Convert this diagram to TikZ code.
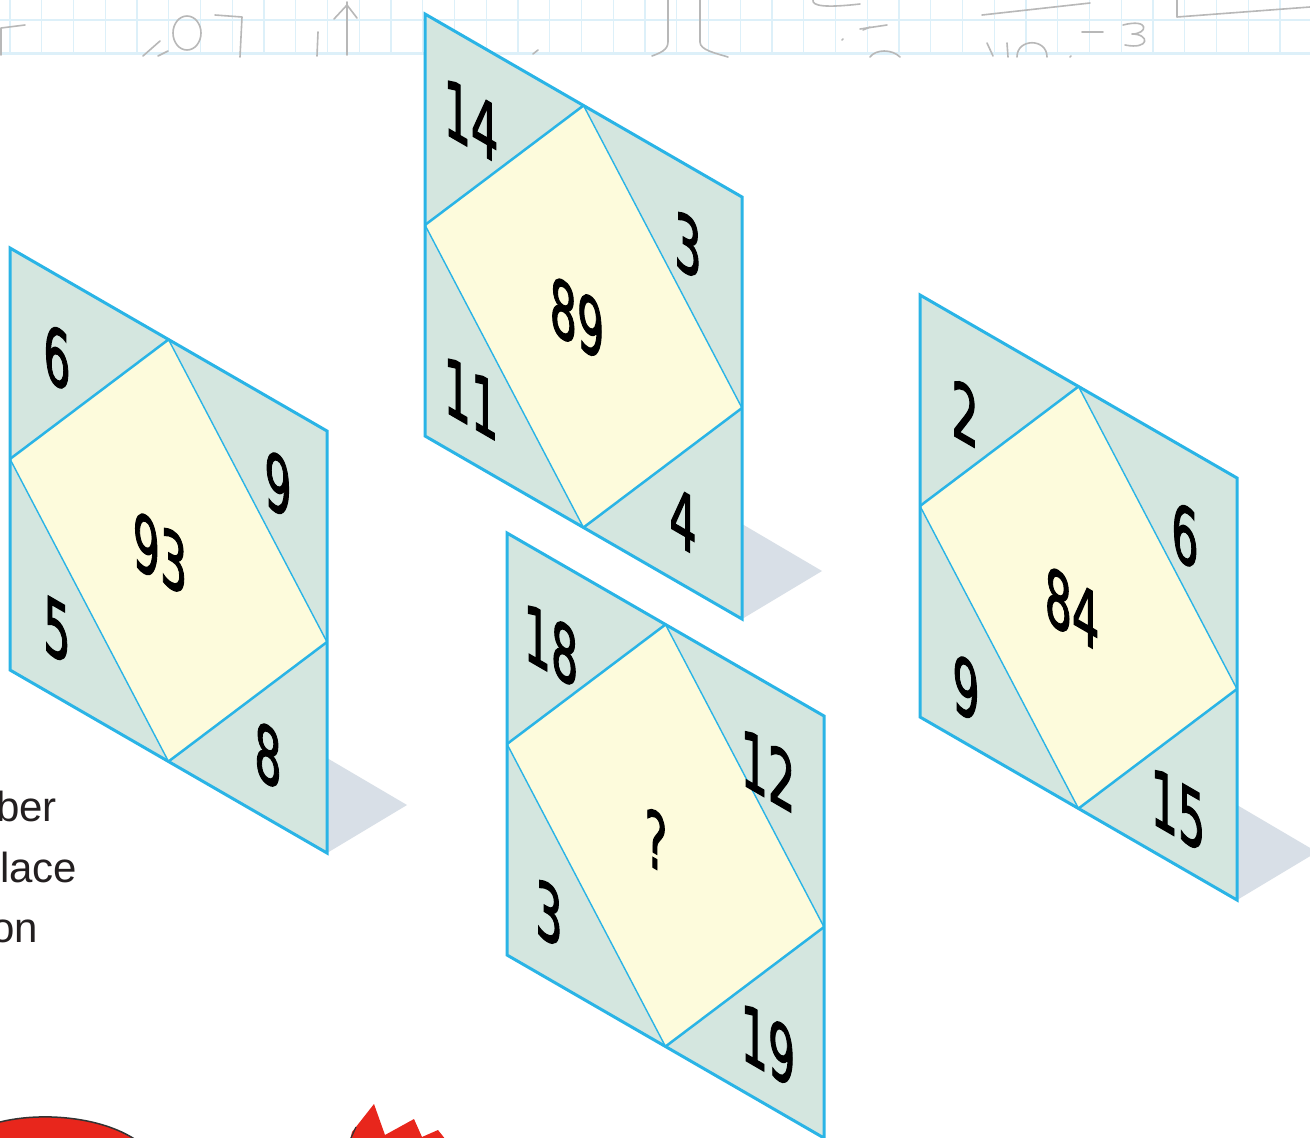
\documentclass[tikz,border=0pt]{standalone}
\usepackage{fontspec}
\setmainfont{Liberation Sans}
\newfontfamily\digitfont[FakeBold=2]{DejaVu Sans}
\definecolor{pstroke}{HTML}{2AB4E6}
\definecolor{ptri}{HTML}{D4E6DF}
\definecolor{prect}{HTML}{FDFBDC}
\definecolor{pshadow}{HTML}{D8DFE7}
\definecolor{gridblue}{HTML}{DDF0F9}
\definecolor{scrib}{HTML}{B8B8B8}
\definecolor{inkc}{HTML}{231F20}
\definecolor{redfill}{HTML}{E8261C}
\tikzset{
  outerline/.style={draw=pstroke, line width=3pt, line join=miter},
  thickline/.style={draw=pstroke, line width=2.5pt},
  thinline/.style={draw=pstroke, line width=1.4pt},
  digit/.style={font=\digitfont\fontsize{78}{78}\selectfont, inner sep=0pt, text=black, yslant=-0.579, xscale=0.55},
  lefttext/.style={font=\fontsize{42}{42}\selectfont, inner sep=0pt, text=inkc, anchor=base west},
  scribble/.style={draw=scrib, line width=1.6pt, line cap=round, line join=round},
  gridline/.style={draw=gridblue, line width=1.2pt}
}
\newcommand\mypanel[4]{%
  \begin{scope}[shift={(#2,#3)}]
    \coordinate (#1tl) at (0,0);
    \coordinate (#1tr) at (317,183);
    \coordinate (#1br) at (317,605);
    \coordinate (#1bl) at (0,422);
    \coordinate (#1t) at (158.5,91.5);
    \coordinate (#1r) at (317,394);
    \coordinate (#1b) at (158.5,513.5);
    \coordinate (#1l) at (0,211);
    \coordinate (#1sa) at (317,510);
    \coordinate (#1sb) at (397,557);
  \end{scope}
  \ifx#4y\fill[pshadow] (#1sa) -- (#1sb) -- (#1br) -- cycle;\fi
  \fill[ptri] (#1tl) -- (#1tr) -- (#1br) -- (#1bl) -- cycle;
  \fill[prect] (#1t) -- (#1r) -- (#1b) -- (#1l) -- cycle;
  \draw[thinline] (#1t) -- (#1r) (#1l) -- (#1b);
  \draw[thickline] (#1l) -- (#1t) (#1r) -- (#1b);
  \draw[outerline] (#1tl) -- (#1tr) -- (#1br) -- (#1bl) -- cycle;
}
\begin{document}
\begin{tikzpicture}[x=1pt,y=-1pt]
\useasboundingbox (0,0) rectangle (1310,1138);
\clip (0,0) rectangle (1310,1138);
\fill[white] (0,0) rectangle (1310,1138);
% grid paper strip
\foreach \i in {0,...,41} {
  \draw[gridline] ({10+31.75*\i},0) -- ({10+31.75*\i},55);
}
\draw[gridline] (0,20) -- (1310,20);
\draw[draw=gridblue, line width=3pt] (0,53.5) -- (1310,53.5);
% handwritten scribbles
\draw[scribble] (1,55) -- (1,28) -- (25,25);
\draw[scribble] (143,56) -- (160,41);
\draw[scribble] (158,56) -- (168,51);
\draw[scribble] (187,33) ellipse [x radius=14, y radius=17];
\draw[scribble] (215,15) -- (242,17) -- (240,57);
\draw[scribble] (347,55) -- (347,2);
\draw[scribble] (334,19) -- (347,5) -- (357,18);
\draw[scribble] (318,32) -- (317,56);
\draw[scribble] (533,54) -- (538,50);
\draw[scribble] (668,0) -- (668,42) .. controls (668,50) and (660,53) .. (652,56);
\draw[scribble] (700,0) -- (700,42) .. controls (700,50) and (715,53) .. (728,57);
\draw[scribble] (813,0) .. controls (812,6) and (825,8) .. (860,4);
\draw[scribble] (863,30) -- (870,27);
\draw[scribble] (842,40) -- (843,39);
\draw[scribble] (860,29) -- (887,25);
\draw[scribble] (870,57) .. controls (876,49) and (892,49) .. (900,57);
\draw[scribble] (982,15) -- (1090,3);
\draw[scribble] (987,43) -- (993,56);
\draw[scribble] (1007,43) -- (1008,57);
\draw[scribble] (1017,57) .. controls (1017,38) and (1047,38) .. (1047,57);
\draw[scribble] (1082,32) -- (1103,32);
\draw[scribble] (1123,25) .. controls (1150,18) and (1148,34) .. (1132,34) .. controls (1150,34) and (1150,50) .. (1125,45);
\draw[scribble] (1070,57) -- (1071,56);
\draw[scribble] (1177,0) -- (1177,17) -- (1310,7);
% left text
\node[lefttext] (txtber) at (-4,821) {ber};
\node[lefttext] (txtlace) at (0,882) {lace};
\node[lefttext] (txton) at (-9,942) {on};
% panels
\mypanel{pa}{10}{248}{y}
\mypanel{pb}{425}{14}{y}
\mypanel{pc}{507}{533}{n}
\mypanel{pd}{920}{295}{y}
% labels panel a
\node[digit] (a1) at (57,357) {6};
\node[digit] (a2) at (278,484) {9};
\node[digit] (a3) at (160,553) {93};
\node[digit] (a4) at (57,630) {5};
\node[digit] (a5) at (268,755) {8};
% panel b
\node[digit] (b1) at (471,120) {14};
\node[digit] (b2) at (688,245) {3};
\node[digit] (b3) at (577,318) {89};
\node[digit] (b4) at (471,398) {11};
\node[digit] (b5) at (683,520) {4};
% panel c
\node[digit] (c1) at (551,645) {18};
\node[digit] (c2) at (768,770) {12};
\node[digit] (c3) at (656,840) {?};
\node[digit] (c4) at (549,913) {3};
\node[digit] (c5) at (768,1045) {19};
% panel d
\node[digit] (d1) at (965,413) {2};
\node[digit] (d2) at (1185,535) {6};
\node[digit] (d3) at (1072,608) {84};
\node[digit] (d4) at (966,688) {9};
\node[digit] (d5) at (1178,810) {15};
% red shapes at the bottom
\fill[redfill] (0,1122) .. controls (40,1112) and (100,1116) .. (136,1140) -- (0,1140) -- cycle;
\draw[draw=black!80, line width=1.5pt] (0,1122) .. controls (40,1112) and (100,1116) .. (136,1140);
\fill[redfill] (350,1140) -- (352,1132) -- (374,1104) -- (385,1135) -- (414,1119) -- (422,1137) -- (438,1130) -- (446,1140) -- cycle;
\draw[draw=black!80, line width=1.2pt] (351,1138) -- (356,1127);
\end{tikzpicture}
\end{document}
